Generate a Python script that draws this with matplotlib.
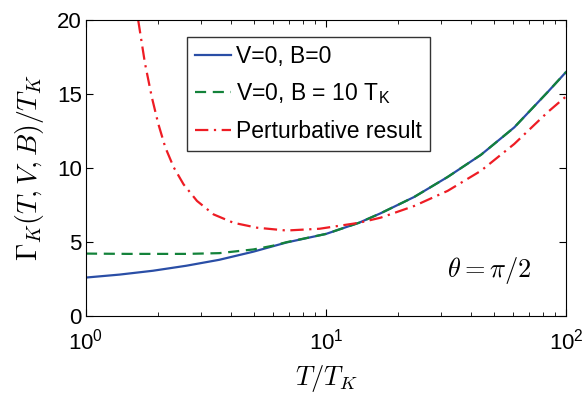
import matplotlib
matplotlib.use('Agg')
import matplotlib.pyplot as plt

plt.rcParams['font.family'] = ['Liberation Sans', 'DejaVu Sans']
plt.rcParams['mathtext.fontset'] = 'cm'

# T/T_K readings for each curve
t_blue = [1, 1.38, 1.9, 2.62, 3.59, 4.98, 6.84, 10, 13.7, 16.9, 23.3, 32.1, 44.2, 60.8, 83.9, 100]
g_blue = [2.6, 2.8, 3.06, 3.4, 3.8, 4.35, 4.97, 5.55, 6.3, 6.95, 8.05, 9.4, 10.9, 12.75, 15.15, 16.5]

t_green = [1, 1.5, 2, 2.62, 3.59, 4.98, 6.0, 6.84, 10, 13.7, 16.9, 23.3, 32.1, 44.2, 60.8, 83.9, 100]
g_green = [4.22, 4.2, 4.2, 4.2, 4.25, 4.5, 4.75, 4.99, 5.55, 6.3, 6.95, 8.05, 9.4, 10.9, 12.75, 15.15, 16.5]

t_red = [1.65, 1.76, 1.88, 2.0, 2.14, 2.32, 2.55, 2.9, 3.4, 4.12, 5.16, 6.84, 9.4,
         13.7, 16.9, 23.3, 32.1, 44.2, 60.8, 83.9, 100]
g_red = [20, 17.1, 14.8, 13.0, 11.4, 10.05, 8.9, 7.78, 6.87, 6.3, 5.97, 5.78, 5.9,
         6.3, 6.65, 7.44, 8.46, 9.82, 11.63, 13.79, 14.85]

labels = ['V=0, B=0', 'V=0, B = 10 T$_\\mathregular{K}$', 'Perturbative result']

fig = plt.figure(figsize=(5.83, 3.96), dpi=100)
ax = fig.add_axes([0.1475, 0.202, 0.8235, 0.747])

ax.plot(t_blue, g_blue, '-', color='#2a4ea6', lw=1.6, label=labels[0])
ax.plot(t_green, g_green, color='#13823a', lw=1.6, dashes=(5, 3), label=labels[1])
ax.plot(t_red, g_red, color='#ee1c24', lw=1.6, dashes=(6, 2.5, 1, 2.5), label=labels[2])

ax.set_xscale('log')
ax.set_xlim(1, 100)
ax.set_ylim(0, 20)
ax.set_yticks([0, 5, 10, 15, 20])
ax.tick_params(which='both', direction='in', top=True, right=True, labelsize=16)
ax.tick_params(axis='x', pad=9)
ax.tick_params(axis='y', pad=3)
ax.tick_params(which='major', length=5)
ax.tick_params(which='minor', length=3)

ax.set_xlabel('$T/T_K$', fontsize=19, labelpad=6)
ax.set_ylabel('$\\Gamma_K(T,V,B)/T_K$', fontsize=20, labelpad=8)
ax.text(32, 3.1, '$\\theta = \\pi/2$', fontsize=19, va='center')

leg = ax.legend(loc='upper left', bbox_to_anchor=(0.2, 0.96), fontsize=16.5,
                frameon=True, fancybox=False, handlelength=1.6, handletextpad=0.2,
                borderpad=0.35, labelspacing=0.6, borderaxespad=0.2)
leg.get_frame().set_edgecolor('black')
leg.get_frame().set_linewidth(1.0)

fig.savefig('out.png', dpi=100)
